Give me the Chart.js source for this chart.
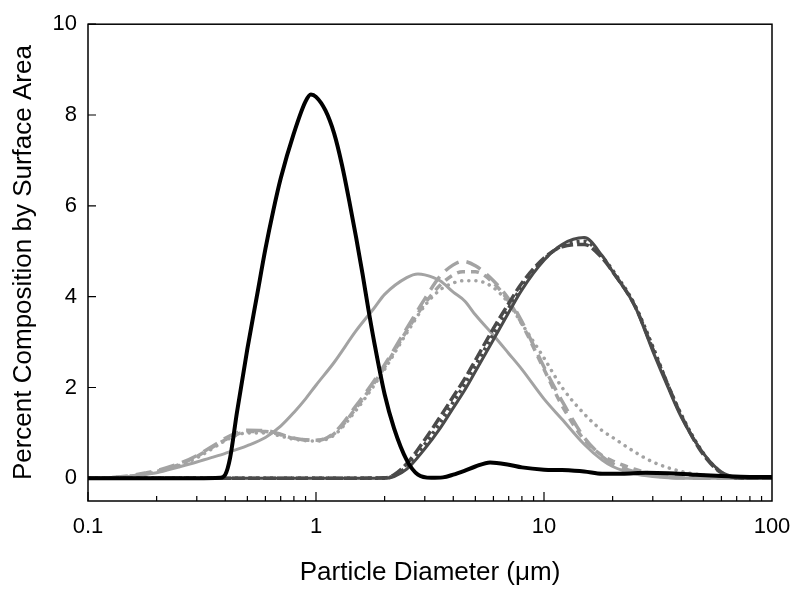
<!DOCTYPE html>
<html>
<head>
<meta charset="utf-8">
<script src="https://cdn.jsdelivr.net/npm/chart.js@4.4.0/dist/chart.umd.min.js"></script>
<style>
  html, body { margin: 0; padding: 0; background: #fff; }
  #wrap { width: 800px; height: 598px; position: relative; }
</style>
</head>
<body>
<div id="wrap"><canvas id="chart"></canvas></div>
<script>
// ── Data ─────────────────────────────────────────────────────
const xTickValues = [0.1, 1, 10, 100];
const yTickValues = [0, 2, 4, 6, 8, 10];

// black solid
const blackX = [0.1, 0.2, 0.3, 0.38, 0.4, 0.42, 0.45, 0.5, 0.55, 0.6, 0.65, 0.7, 0.8, 0.9, 0.95, 1, 1.1, 1.2, 1.3, 1.4, 1.5, 1.6, 1.7, 1.8, 2, 2.2, 2.5, 2.8, 3.2, 3.6, 4, 4.5, 5, 5.8, 7, 8, 10, 12, 15, 18, 22, 28, 35, 45, 60, 80, 100];
const blackY = [0, 0, 0, 0.01, 0.08, 0.45, 1.45, 2.85, 4.0, 5.05, 5.9, 6.6, 7.6, 8.3, 8.45, 8.4, 8.1, 7.6, 6.9, 6.1, 5.3, 4.5, 3.7, 3.0, 1.85, 1.1, 0.4, 0.08, 0.01, 0.02, 0.08, 0.17, 0.26, 0.35, 0.3, 0.24, 0.19, 0.18, 0.15, 0.1, 0.1, 0.12, 0.11, 0.08, 0.05, 0.03, 0.03];

// light grey solid
const lightSolidX = [0.1, 0.12, 0.15, 0.18, 0.2, 0.25, 0.3, 0.35, 0.4, 0.5, 0.6, 0.7, 0.8, 0.9, 1, 1.2, 1.5, 1.8, 2, 2.5, 2.8, 3, 3.5, 4, 4.5, 5, 6, 7, 8, 10, 12, 15, 18, 20, 25, 30, 40, 100];
const lightSolidY = [0, 0.01, 0.04, 0.09, 0.12, 0.25, 0.36, 0.46, 0.55, 0.72, 0.9, 1.15, 1.45, 1.75, 2.05, 2.55, 3.25, 3.75, 4.05, 4.42, 4.5, 4.48, 4.35, 4.1, 3.9, 3.6, 3.15, 2.75, 2.4, 1.75, 1.3, 0.75, 0.4, 0.26, 0.1, 0.04, 0, 0];

// light grey bimodal curves
const lightBiX = [0.1, 0.12, 0.15, 0.18, 0.2, 0.25, 0.3, 0.35, 0.4, 0.45, 0.5, 0.6, 0.7, 0.8, 1, 1.2, 1.5, 1.8, 2, 2.5, 3, 3.5, 4, 4.4, 5, 6, 7, 8, 10, 12, 15, 18, 20, 25, 30, 40, 50, 60, 70, 100];
const lightLongDashY = [0, 0.01, 0.05, 0.12, 0.17, 0.32, 0.5, 0.7, 0.88, 1.0, 1.06, 1.05, 0.97, 0.88, 0.83, 1.0, 1.6, 2.15, 2.5, 3.3, 3.95, 4.45, 4.7, 4.78, 4.68, 4.35, 3.95, 3.45, 2.45, 1.7, 0.9, 0.48, 0.32, 0.14, 0.06, 0.01, 0, 0, 0, 0];
const lightDashY     = [0, 0.01, 0.04, 0.1, 0.15, 0.3, 0.48, 0.68, 0.85, 0.97, 1.03, 1.03, 0.96, 0.88, 0.84, 0.98, 1.55, 2.1, 2.45, 3.25, 3.85, 4.25, 4.48, 4.55, 4.55, 4.3, 3.9, 3.4, 2.4, 1.6, 0.85, 0.5, 0.38, 0.2, 0.1, 0.03, 0, 0, 0, 0];
const lightDotY      = [0, 0.01, 0.04, 0.1, 0.14, 0.28, 0.45, 0.65, 0.83, 0.95, 1.0, 1.0, 0.93, 0.86, 0.82, 0.95, 1.5, 2.05, 2.4, 3.2, 3.8, 4.15, 4.3, 4.35, 4.35, 4.2, 3.85, 3.4, 2.65, 2.0, 1.42, 1.05, 0.9, 0.58, 0.36, 0.15, 0.07, 0.02, 0, 0];

// dark grey curves
const darkX = [0.1, 1, 2, 2.2, 2.5, 3, 3.5, 4, 4.5, 5, 6, 7, 8, 10, 12, 15, 18, 20, 25, 30, 35, 40, 50, 60, 70, 80, 100];
const darkSolidY = [0, 0, 0, 0.04, 0.2, 0.65, 1.1, 1.55, 1.95, 2.35, 3.05, 3.65, 4.15, 4.8, 5.15, 5.3, 4.9, 4.55, 3.8, 2.8, 2.0, 1.35, 0.55, 0.14, 0.02, 0, 0];
const darkDashY  = [0, 0, 0.01, 0.08, 0.32, 0.85, 1.35, 1.8, 2.2, 2.6, 3.3, 3.85, 4.3, 4.85, 5.1, 5.15, 4.85, 4.55, 3.8, 2.85, 2.05, 1.38, 0.52, 0.12, 0.01, 0, 0];
const darkDotY   = [0, 0, 0, 0.06, 0.26, 0.75, 1.22, 1.68, 2.08, 2.48, 3.18, 3.75, 4.22, 4.82, 5.12, 5.22, 4.88, 4.58, 3.82, 2.9, 2.05, 1.4, 0.55, 0.13, 0.01, 0, 0];

// ── Helpers ──────────────────────────────────────────────────
const FONT = "'Liberation Sans', Arial, Helvetica, sans-serif";
const LIGHT = "#a3a3a3";
const DARK  = "#4a4a4a";

function pts(xs, ys) {
  return xs.map((x, i) => ({ x: x, y: ys[i] }));
}

function line(xs, ys, color, width, dash) {
  return {
    data: pts(xs, ys),
    borderColor: color,
    borderWidth: width,
    borderDash: dash || [],
    borderCapStyle: dash && dash[0] < 1 ? "round" : "butt",
    pointRadius: 0,
    fill: false,
    cubicInterpolationMode: "monotone"
  };
}

// ── Frame + inward ticks ─────────────────────────────────────
const frameTicks = {
  id: "frameTicks",
  afterDatasetsDraw(chart) {
    const { ctx, chartArea: a, scales } = chart;
    ctx.save();
    ctx.strokeStyle = "#000";
    ctx.lineWidth = 1.5;
    ctx.strokeRect(a.left, a.top, a.right - a.left, a.bottom - a.top);

    ctx.lineWidth = 1.2;
    ctx.beginPath();
    yTickValues.forEach(v => {
      const py = scales.y.getPixelForValue(v);
      ctx.moveTo(a.left, py);
      ctx.lineTo(a.left + 8, py);
    });
    [0.1, 1, 10].forEach(d => {
      for (let m = 1; m <= 9; m++) {
        const px = scales.x.getPixelForValue(d * m);
        const len = m === 1 ? 9 : 5;
        ctx.moveTo(px, a.bottom);
        ctx.lineTo(px, a.bottom - len);
      }
    });
    ctx.stroke();
    ctx.restore();
  }
};

// ── Chart ────────────────────────────────────────────────────
new Chart(document.getElementById("chart"), {
  type: "line",
  data: {
    datasets: [
      line(blackX, blackY, "#000", 4),
      line(darkX, darkSolidY, DARK, 3),
      line(darkX, darkDashY, DARK, 3.5, [12, 4]),
      line(darkX, darkDotY, DARK, 3.5, [3, 4]),
      line(lightSolidX, lightSolidY, LIGHT, 3),
      line(lightBiX, lightLongDashY, LIGHT, 3.5, [16, 8]),
      line(lightBiX, lightDashY, LIGHT, 3.5, [8, 6]),
      line(lightBiX, lightDotY, LIGHT, 3.5, [0.1, 7])
    ]
  },
  options: {
    responsive: true,
    maintainAspectRatio: false,
    animation: false,
    layout: { padding: { top: 23, right: 28, left: 0, bottom: 0 } },
    plugins: { legend: { display: false }, tooltip: { enabled: false } },
    scales: {
      x: {
        type: "logarithmic",
        min: 0.1,
        max: 100,
        grid: { display: false, drawTicks: false },
        border: { display: false },
        afterBuildTicks: s => { s.ticks = xTickValues.map(v => ({ value: v })); },
        afterFit: s => { s.height = 97; s.paddingLeft = 0; s.paddingRight = 0; },
        ticks: {
          color: "#000",
          padding: 13,
          autoSkip: false,
          maxRotation: 0,
          font: { family: FONT, size: 22 },
          callback: v => String(v)
        },
        title: {
          display: true,
          text: "Particle Diameter (μm)",
          color: "#000",
          font: { family: FONT, size: 26 },
          padding: { top: 0, bottom: 10 }
        }
      },
      y: {
        min: -0.5,
        max: 10,
        grid: { display: false, drawTicks: false },
        border: { display: false },
        afterBuildTicks: s => { s.ticks = yTickValues.map(v => ({ value: v })); },
        afterFit: s => { s.width = 88; },
        ticks: {
          color: "#000",
          padding: 11,
          font: { family: FONT, size: 22 }
        },
        title: {
          display: true,
          text: "Percent Composition by Surface Area",
          color: "#000",
          font: { family: FONT, size: 26 },
          padding: { top: 8, bottom: 0 }
        }
      }
    }
  },
  plugins: [frameTicks]
});
</script>
</body>
</html>
